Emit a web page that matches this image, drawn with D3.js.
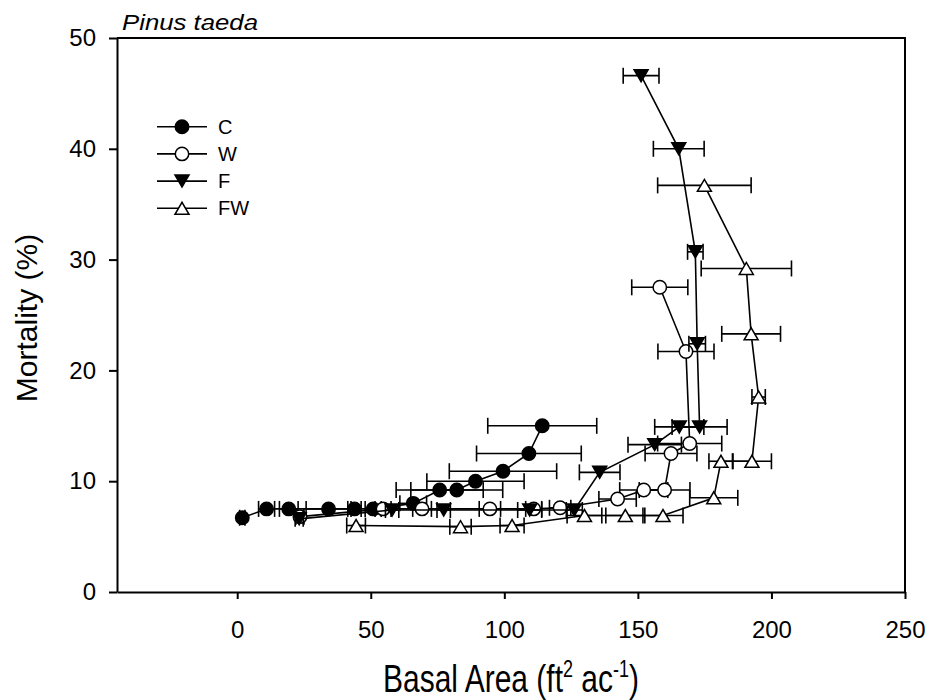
<!DOCTYPE html>
<html>
<head>
<meta charset="utf-8">
<script src="https://cdn.jsdelivr.net/npm/d3@7"></script>
<style>
  body { margin: 0; background: #fff; }
  svg { display: block; font-family: "Liberation Sans", Arial, sans-serif; }
  .axis path, .axis line { stroke: #000; stroke-width: 2; }
  .axis text { font-size: 24px; fill: #000; }
</style>
</head>
<body>
<div id="chart"></div>
<script>
// basal area (x), mortality (y), horizontal error (xerr) per treatment
var cX    = [1.9, 11.0, 19.3, 34.2, 43.9, 50.9, 65.9, 75.8, 82.2, 89.2, 99.5, 109.2, 114.2]
var cY    = [6.7, 7.5, 7.5, 7.5, 7.5, 7.5, 8.0, 9.2, 9.2, 10.0, 10.9, 12.5, 15.0]
var cErr  = [1.0, 3.0, 3.5, 8.4, 2.5, 3.0, 5.0, 16.3, 17.2, 18.2, 20.1, 19.6, 20.4]

var wX    = [23.5, 54.6, 69.2, 94.6, 111.0, 120.9, 142.4, 152.2, 160.0, 162.4, 169.4, 168.0, 158.2]
var wY    = [6.8, 7.5, 7.5, 7.5, 7.5, 7.6, 8.4, 9.2, 9.2, 12.5, 13.4, 21.7, 27.5]
var wErr  = [1.5, 3.0, 3.5, 4.0, 3.0, 4.0, 7.0, 9.0, 9.5, 9.7, 12.0, 10.5, 10.5]

var fX    = [23.2, 58.0, 77.3, 109.5, 126.2, 135.7, 156.3, 165.5, 173.1, 172.2, 171.5, 165.3, 151.2]
var fY    = [6.6, 7.4, 7.4, 7.4, 7.4, 10.8, 13.3, 14.9, 14.9, 22.4, 30.7, 40.0, 46.6]
var fErr  = [1.5, 2.5, 2.5, 4.5, 3.0, 7.6, 10.0, 9.2, 10.3, 3.1, 2.9, 9.5, 6.7]

var fwX   = [44.5, 83.6, 102.9, 130.0, 145.3, 159.4, 178.4, 181.1, 192.7, 195.2, 192.4, 190.6, 174.9]
var fwY   = [6.0, 5.9, 6.0, 6.9, 6.9, 6.9, 8.5, 11.8, 11.8, 17.6, 23.3, 29.2, 36.7]
var fwErr = [3.5, 4.0, 4.5, 6.5, 7.3, 7.5, 9.0, 4.5, 7.3, 2.5, 11.0, 16.9, 17.5]

var seriesNames = ["C", "W", "F", "FW"]
var xTicks = [0, 50, 100, 150, 200, 250]
var yTicks = [0, 10, 20, 30, 40, 50]

var margin = {top: 38, right: 24, bottom: 108, left: 117},
    width  = 929 - margin.left - margin.right,
    height = 700 - margin.top - margin.bottom

var svg = d3.select("#chart").append("svg")
  .attr("width", 929)
  .attr("height", 700)

var g = svg.append("g")
  .attr("transform", "translate(" + margin.left + "," + margin.top + ")")

var x = d3.scaleLinear().domain([-45, 250]).range([0, width])
var y = d3.scaleLinear().domain([0, 50]).range([height, 0])

// marker shapes
function markerPath(shape) {
  var w = 14, h = 12
  if (shape == "down") return "M" + (-w/2) + "," + (-h/2) + "L" + (w/2) + "," + (-h/2) + "L0," + (h/2) + "Z"
  return "M" + (-w/2) + "," + (h/2) + "L" + (w/2) + "," + (h/2) + "L0," + (-h/2) + "Z"
}

function drawMarker(sel, style) {
  if (style.shape == "circle") {
    sel.append("circle").attr("r", 6.7)
      .attr("fill", style.fill).attr("stroke", "#000").attr("stroke-width", 1.5)
  } else {
    sel.append("path").attr("d", markerPath(style.shape))
      .attr("fill", style.fill).attr("stroke", "#000").attr("stroke-width", 1.5)
  }
}

var styles = [
  {shape: "circle", fill: "#000"},
  {shape: "circle", fill: "#fff"},
  {shape: "down", fill: "#000"},
  {shape: "up", fill: "#fff"}
]

var allSeries = [[cX, cY, cErr], [wX, wY, wErr], [fX, fY, fErr], [fwX, fwY, fwErr]].map(function(s) {
  return s[0].map(function(v, i) { return {x: v, y: s[1][i], err: s[2][i]} })
})

var line = d3.line().x(d => x(d.x)).y(d => y(d.y))

allSeries.forEach(function(data, si) {
  var sg = g.append("g").attr("class", "series s" + si)

  var bars = sg.selectAll("g.err").data(data).enter().append("g")
    .attr("class", "err")
    .attr("stroke", "#000").attr("stroke-width", 1.6)
  bars.append("line")
    .attr("x1", d => x(d.x - d.err)).attr("x2", d => x(d.x + d.err))
    .attr("y1", d => y(d.y)).attr("y2", d => y(d.y))
  bars.append("line")
    .attr("x1", d => x(d.x - d.err)).attr("x2", d => x(d.x - d.err))
    .attr("y1", d => y(d.y) - 8).attr("y2", d => y(d.y) + 8)
  bars.append("line")
    .attr("x1", d => x(d.x + d.err)).attr("x2", d => x(d.x + d.err))
    .attr("y1", d => y(d.y) - 8).attr("y2", d => y(d.y) + 8)

  sg.append("path")
    .datum(data)
    .attr("fill", "none")
    .attr("stroke", "#000")
    .attr("stroke-width", 1.6)
    .attr("d", line)

  sg.selectAll("g.pt").data(data).enter().append("g")
    .attr("class", "pt")
    .attr("transform", d => "translate(" + x(d.x) + "," + y(d.y) + ")")
    .each(function() { drawMarker(d3.select(this), styles[si]) })
})

// axes + box
g.append("g")
  .attr("class", "axis x")
  .attr("transform", "translate(0," + height + ")")
  .call(d3.axisBottom(x).tickValues(xTicks).tickSize(7).tickSizeOuter(0).tickPadding(22))

g.append("g")
  .attr("class", "axis y")
  .call(d3.axisLeft(y).tickValues(yTicks).tickSize(8).tickSizeOuter(0).tickPadding(13))

g.append("path")
  .attr("d", "M0,0H" + width + "V" + height)
  .attr("fill", "none")
  .attr("stroke", "#000")
  .attr("stroke-width", 2)

// legend
var legend = svg.append("g").attr("transform", "translate(157,126.7)")
seriesNames.forEach(function(name, i) {
  var row = legend.append("g").attr("transform", "translate(0," + (i * 27.2) + ")")
  row.append("line").attr("x1", 0).attr("x2", 50).attr("y1", 0).attr("y2", 0)
    .attr("stroke", "#000").attr("stroke-width", 1.6)
  drawMarker(row.append("g").attr("transform", "translate(25,0)"), styles[i])
  row.append("text").attr("x", 61).attr("y", 0).attr("dy", "0.35em")
    .attr("font-size", "20px").text(name)
})

// titles
svg.append("text")
  .attr("x", 122).attr("y", 30)
  .attr("font-size", "22px")
  .attr("font-style", "italic")
  .attr("textLength", 136)
  .attr("lengthAdjust", "spacingAndGlyphs")
  .text("Pinus taeda")

svg.append("text")
  .attr("transform", "translate(36.7,318) rotate(-90)")
  .attr("text-anchor", "middle")
  .attr("font-size", "30px")
  .text("Mortality (%)")

var xl = svg.append("text")
  .attr("transform", "translate(511,691.7) scale(1,1.32)")
  .attr("text-anchor", "middle")
  .attr("font-size", "30px")
xl.append("tspan").text("Basal Area (ft")
xl.append("tspan").attr("font-size", "18px").attr("dy", -11).text("2")
xl.append("tspan").attr("dy", 11).text(" ac")
xl.append("tspan").attr("font-size", "18px").attr("dy", -11).text("-1")
xl.append("tspan").attr("dy", 11).text(")")
</script>
</body>
</html>
